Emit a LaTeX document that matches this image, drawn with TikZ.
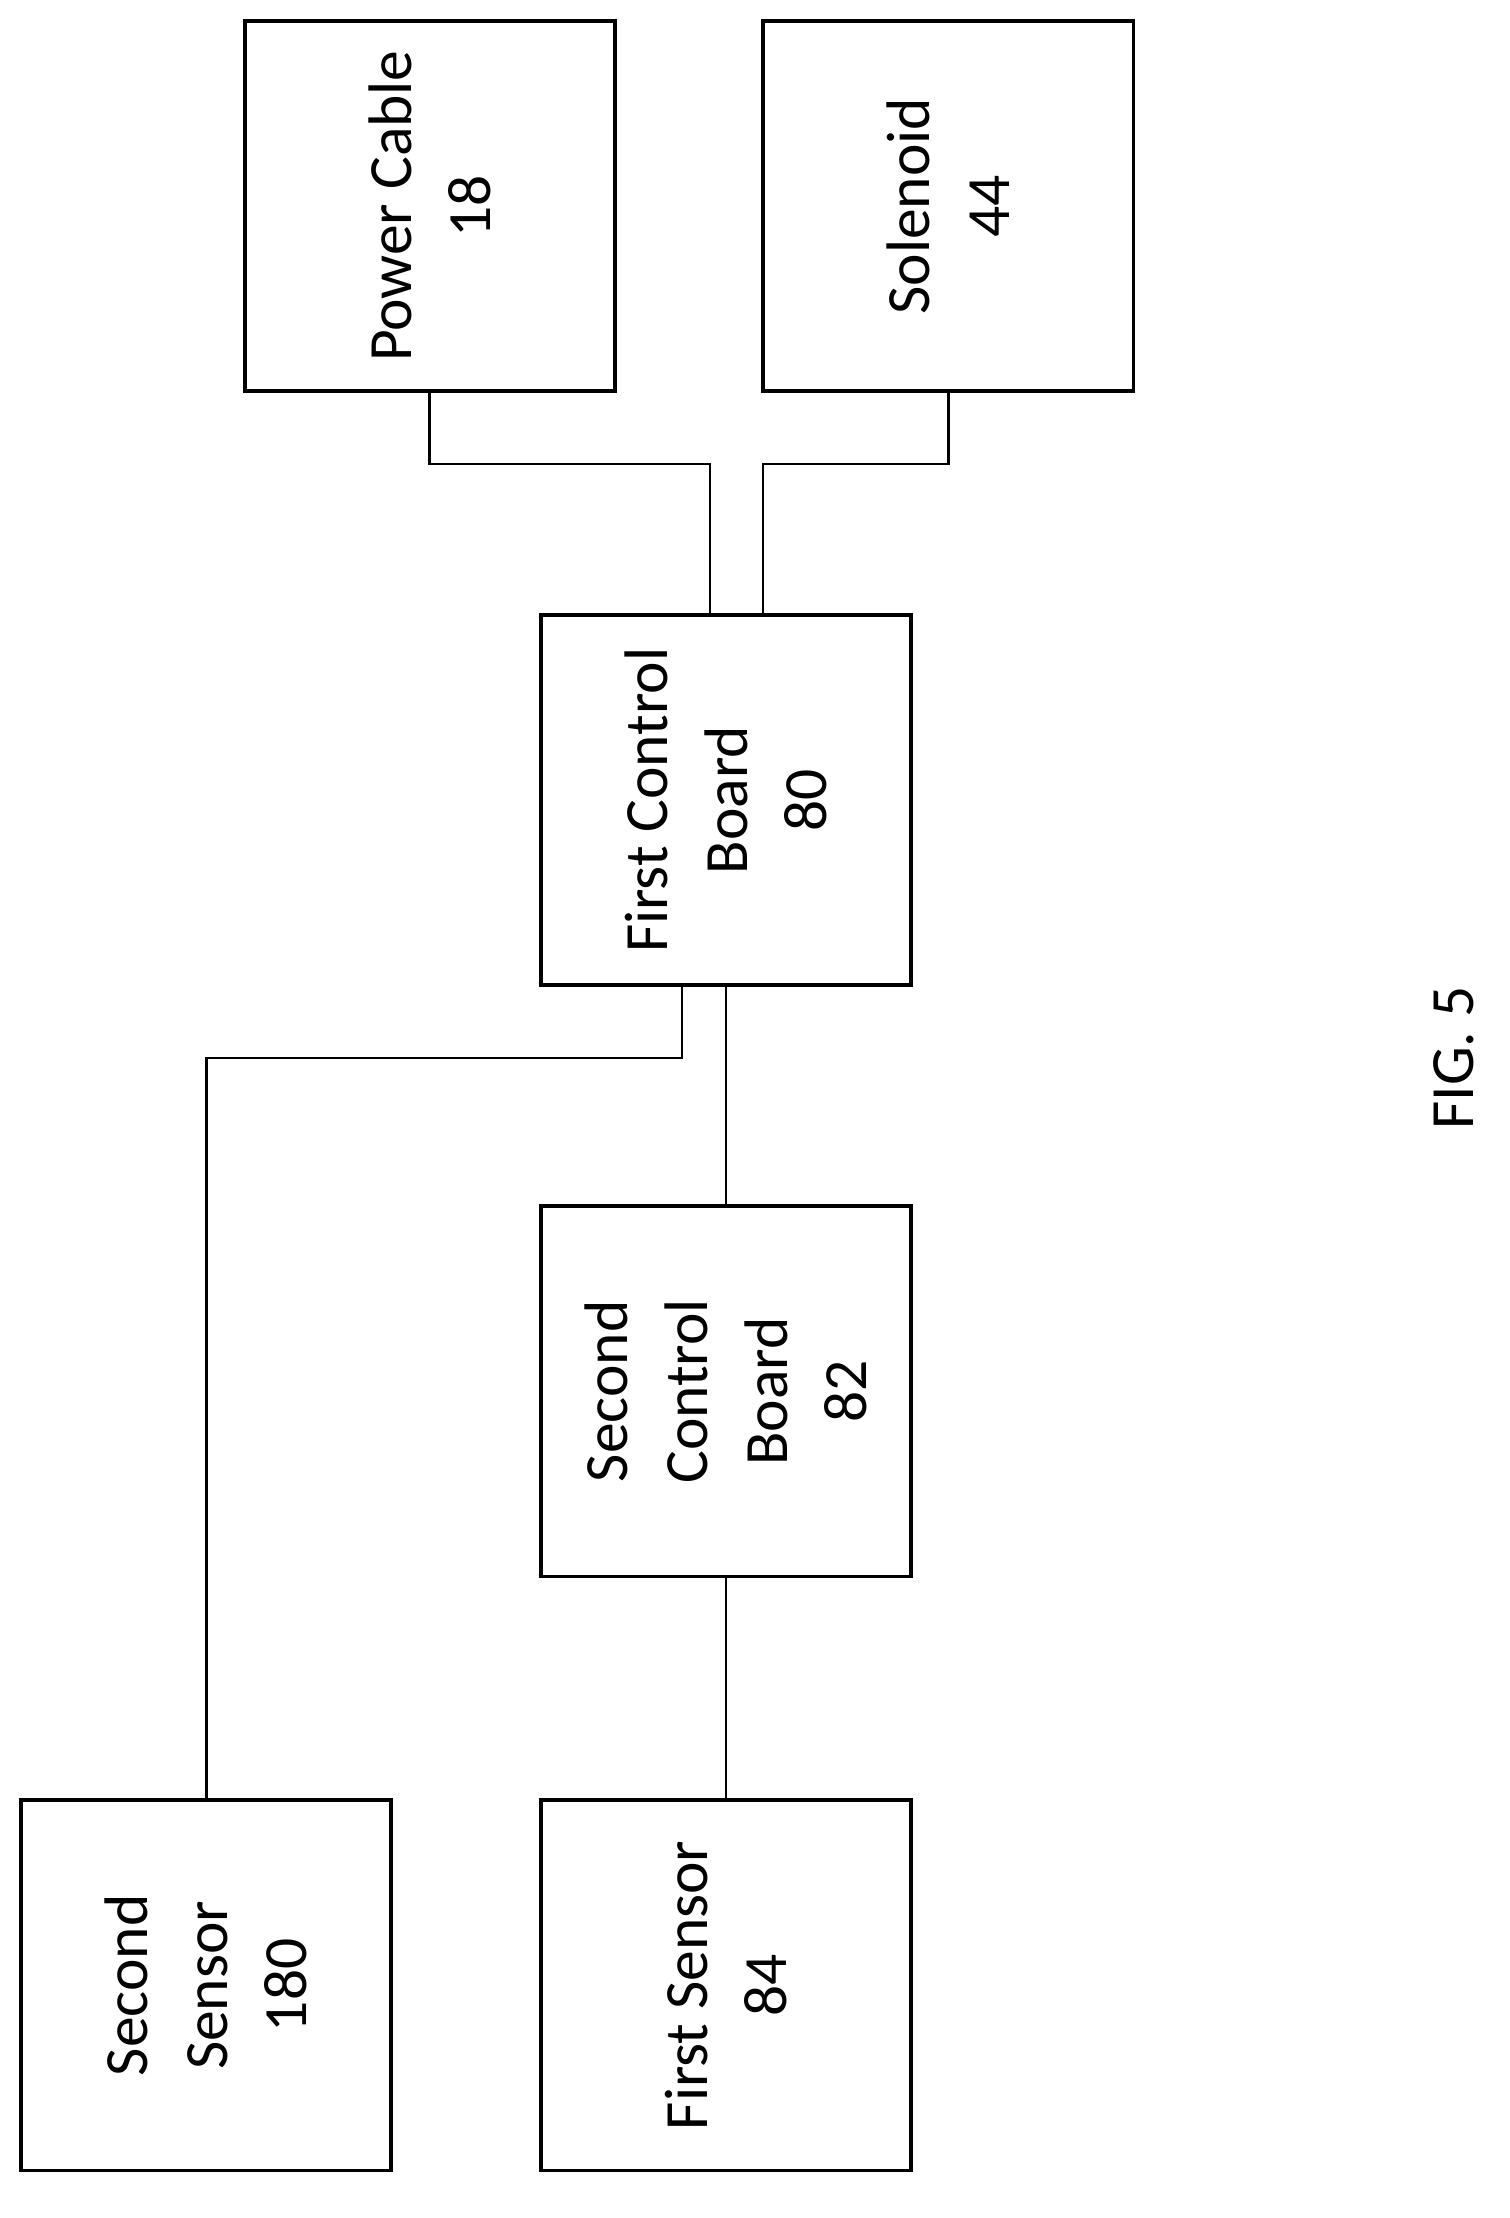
\documentclass[tikz,border=0pt]{standalone}
\usepackage{fontspec}
\setmainfont{Carlito}
\begin{document}
\begin{tikzpicture}[x=0.5pt,y=-0.5pt,
  blk/.style={draw,line width=1.4pt,minimum width=132.5pt,minimum height=132.5pt,inner sep=0pt},
  lbl/.style={rotate=90,align=center,font=\fontsize{22}{28.5}\selectfont},
  wire/.style={line width=1pt}]
\useasboundingbox (0,0) rectangle (1080,1587);
\node[blk] (pc) at (307.5,147.5) {};
\node[lbl] at (pc) {Power Cable\\18};
\node[blk] (so) at (678.5,147.5) {};
\node[lbl] at (so) {Solenoid\\44};
\node[blk] (fcb) at (519.5,572.5) {};
\node[lbl] at (fcb) {First Control\\Board\\80};
\node[blk] (scb) at (519.5,995.5) {};
\node[lbl] at (scb) {Second\\Control\\Board\\82};
\node[blk] (ss) at (147.5,1420.5) {};
\node[lbl] at (ss) {Second\\Sensor\\180};
\node[blk] (fs) at (519.5,1420.5) {};
\node[lbl] at (fs) {First Sensor\\84};
\node[rotate=90,font=\fontsize{22}{26}\selectfont] (fig) at (1040,757) {FIG. 5};
\draw[wire] (pc.south) |- (508,332) -- (508,440);
\draw[wire] (so.south) |- (546,332) -- (546,440);
\draw[wire] (fcb.south) -- (scb.north);
\draw[wire] (488,705) |- (148,757) -- (ss.north -| 148,0);
\draw[wire] (scb.south) -- (fs.north);
\end{tikzpicture}
\end{document}
